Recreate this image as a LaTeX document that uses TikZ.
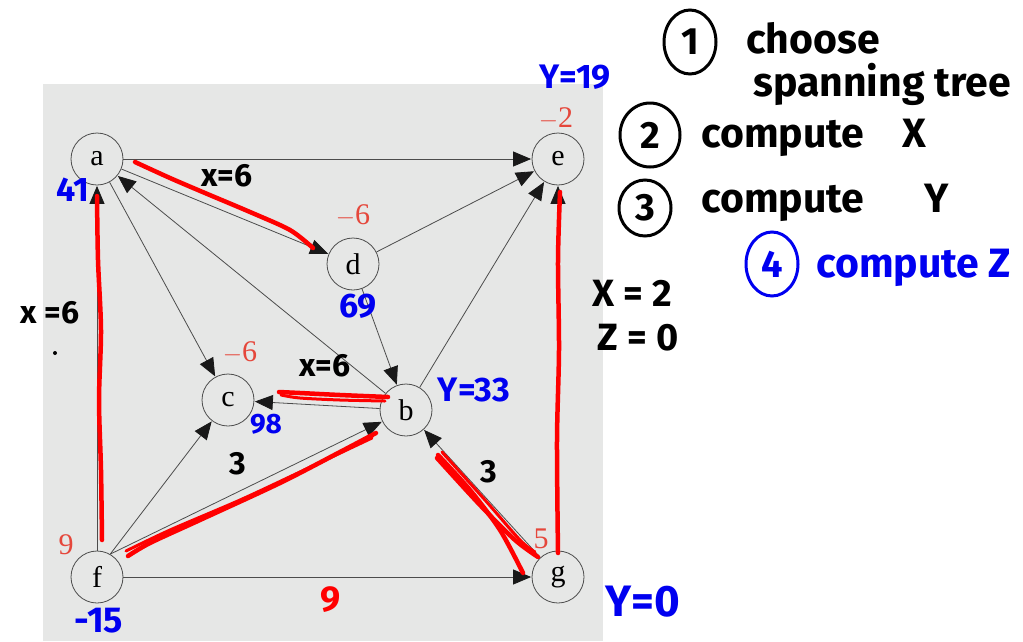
\documentclass[tikz,border=0pt]{standalone}
\usepackage{fontspec}
\setmainfont{Liberation Serif}
\newfontfamily\hand{Fira Sans}
\usetikzlibrary{arrows.meta,shapes.geometric}
\definecolor{bggray}{HTML}{E6E7E6}
\definecolor{wred}{HTML}{E5473B}
\definecolor{pblue}{HTML}{0000F0}
\begin{document}
\begin{tikzpicture}[x=1pt,y=-1pt,
  vtx/.style={circle,draw=black!70,line width=0.8pt,minimum size=52pt,inner sep=0pt,font=\fontsize{30}{30}\selectfont},
  edge/.style={draw=black!70,line width=0.8pt,-{Triangle[length=18pt,width=15pt,color=black!90]},shorten >=0.5pt},
  wt/.style={text=wred,font=\fontsize{30}{30}\selectfont},
  bl/.style={text=pblue,font=\hand\bfseries\fontsize{34}{34}\selectfont},
  hw/.style={text=black,font=\hand\bfseries\fontsize{32}{32}\selectfont},
  big/.style={text=black,font=\hand\bfseries\fontsize{41}{41}\selectfont,anchor=west,inner sep=1pt},
  rstroke/.style={draw=red,line width=4.5pt,line cap=round,line join=round},
  ring/.style={draw,line width=3pt,ellipse,inner sep=0pt,font=\hand\bfseries\fontsize{38}{38}\selectfont}
]
\useasboundingbox (0,0) rectangle (1023,641);
\fill[white] (0,0) rectangle (1023,641);
\fill[bggray] (43,84) rectangle (603,641);

% vertices
\node[vtx] (a) at (97,159) {a};
\node[vtx] (e) at (558,159) {e};
\node[vtx] (d) at (353,264) {d};
\node[vtx] (c) at (228,400) {c};
\node[vtx] (b) at (406,410) {b};
\node[vtx] (f) at (97,577) {f};
\node[vtx] (g) at (558,577) {g};

% edges
\draw[edge] (a) -- (e);
\draw[edge] (a) -- (d);
\draw[edge] (a) -- (c);
\draw[edge] (b) -- (a);
\draw[edge] (d) -- (e);
\draw[edge] (d) -- (b);
\draw[edge] (b) -- (e);
\draw[edge] (b) -- (c);
\draw[edge] (f) -- (a);
\draw[edge] (f.60) -- (c);
\draw[edge] (f.60) -- (b);
\draw[edge] (f) -- (g);
\draw[edge] (g) -- (b);
\draw[edge] (g) -- (e);

% red strokes (spanning tree)
\draw[rstroke] plot[smooth] coordinates {(135,162) (170,178) (205,193) (250,212) (290,230) (313,248)};
\draw[rstroke] plot[smooth] coordinates {(97,196) (98,260) (101,330) (99,400) (101,470) (102,540)};
\draw[rstroke] plot[smooth] coordinates {(388,397) (340,395) (300,393) (279,392)};
\draw[rstroke,line width=3pt] plot[smooth] coordinates {(385,401) (340,400) (300,398) (281,395)};
\draw[rstroke] plot[smooth] coordinates {(128,556) (150,543) (200,520) (280,483) (340,452) (376,433)};
\draw[rstroke,line width=3pt] plot[smooth] coordinates {(126,551) (170,530) (240,500) (300,472) (372,438)};
\draw[rstroke] plot[smooth] coordinates {(438,455) (470,490) (500,530) (523,573)};
\draw[rstroke] plot[smooth] coordinates {(437,458) (480,505) (515,540) (538,557)};
\draw[rstroke,line width=3pt] plot[smooth] coordinates {(442,452) (485,500) (520,540) (535,552)};
\draw[rstroke] plot[smooth] coordinates {(560,192) (558,260) (559,350) (557,440) (558,553)};

% red weights
\node[wt] (wd) at (353,216) {$-$6};
\node[wt] (wc) at (240,353) {$-$6};
\node[wt] (we) at (556,119) {$-$2};
\node[wt] (wf) at (66,545) {9};
\node[wt] (wg) at (541,539) {5};
\node[text=red,font=\hand\bfseries\fontsize{36}{36}\selectfont] (wfg) at (331,600) {9};

% blue annotations
\node[bl] (ye) at (575,77) {Y=19};
\node[bl] (ya) at (73,190) {41};
\node[bl] (yd) at (358,306) {69};
\node[bl,font=\hand\bfseries\fontsize{28}{28}\selectfont] (yc) at (266,424) {98};
\node[bl] (yb) at (474,390) {Y=33};
\node[bl,font=\hand\bfseries\fontsize{36}{36}\selectfont,inner sep=1pt] (yf) at (99,621) {-15};
\node[bl,font=\hand\bfseries\fontsize{44}{44}\selectfont] (yg) at (643,602) {Y=0};

% black handwritten labels
\node[hw] (xad) at (227,176) {x=6};
\node[hw,inner sep=1pt] (xfa) at (50,313) {x =6};
\fill (55,353) circle (2pt);
\node[hw] (xbc) at (325,366) {x=6};
\node[hw] (tfb) at (238,464) {3};
\node[hw] (tgb) at (489,472) {3};
\node[hw,font=\hand\bfseries\fontsize{38}{38}\selectfont] (xge) at (632,293) {X = 2};
\node[hw,font=\hand\bfseries\fontsize{38}{38}\selectfont] (zge) at (638,338) {Z = 0};

% steps
\node[ring,minimum width=52pt,minimum height=64pt] (s1) at (690,42) {1};
\node[big] (t1a) at (745,38) {choose};
\node[big] (t1b) at (752,84) {spanning tree};
\node[ring,minimum width=60pt,minimum height=64pt] (s2) at (650,135) {2};
\node[big] (t2) at (700,138) {compute\hspace{38pt}X};
\node[ring,minimum width=52pt,minimum height=56pt] (s3) at (645,208) {3};
\node[big] (t3) at (700,203) {compute\hspace{60pt}Y};
\node[ring,draw=pblue,text=pblue,minimum width=52pt,minimum height=64pt] (s4) at (772,264) {4};
\node[big,text=pblue] (t4) at (815,268) {compute Z};
\end{tikzpicture}
\end{document}
